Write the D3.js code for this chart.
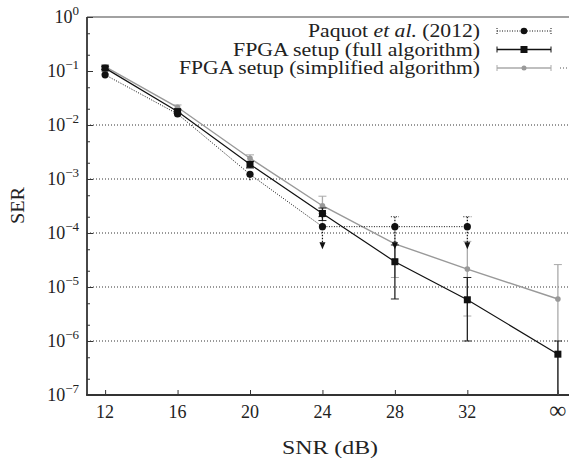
<!DOCTYPE html>
<html>
<head>
<meta charset="utf-8">
<script src="https://cdn.jsdelivr.net/npm/d3@7"></script>
<style>
  body { margin: 0; background: #fff; }
  svg { display: block; }
  text { font-family: "Liberation Serif", "DejaVu Serif", serif; fill: #222; }
</style>
</head>
<body>
<svg id="chart"></svg>
<script>
// SNR positions (infinity drawn at 37) and their labels
const snrTicks = [12, 16, 20, 24, 28, 32, 37];
const snrLabels = ["12", "16", "20", "24", "28", "32", "∞"];

// Paquot et al. (2012)
const paquotX = [12, 16, 20, 24, 28, 32];
const paquotSER = [0.085, 0.016, 0.00122, 1.31e-4, 1.31e-4, 1.31e-4];
const paquotLow = [0.078, 0.0148, 0.00095, 5e-5, 5e-5, 5e-5];
const paquotHigh = [0.092, 0.0172, 0.0014, 2e-4, 2e-4, 2e-4];
const paquotLimit = [false, false, false, true, true, true];

// FPGA setup (full algorithm)
const fullX = [12, 16, 20, 24, 28, 32, 37];
const fullSER = [0.113, 0.0177, 0.00187, 2.3e-4, 2.94e-5, 5.8e-6, 5.7e-7];
const fullLow = [0.106, 0.0165, 0.0016, 1.7e-4, 6e-6, 1e-6, 1e-9];
const fullHigh = [0.12, 0.019, 0.0021, 2.9e-4, 6e-5, 1.5e-5, 1e-6];

// FPGA setup (simplified algorithm)
const simpX = [12, 16, 20, 24, 28, 32, 37];
const simpSER = [0.12, 0.0213, 0.00242, 3.2e-4, 6.3e-5, 2.15e-5, 6e-6];
const simpLow = [0.112, 0.0198, 0.0021, 2.3e-4, 1.5e-5, 2.9e-6, 1e-9];
const simpHigh = [0.128, 0.0235, 0.0028, 4.8e-4, 1.3e-4, 7e-5, 2.6e-5];

const yExponents = [0, -1, -2, -3, -4, -5, -6, -7];
const gridExponents = [-2, -3, -4, -5, -6];

const legendNames = ["Paquot", "FPGA setup (full algorithm)", "FPGA setup (simplified algorithm)"];

const W = 569, H = 459;
const margin = { top: 17, left: 87, bottom: 64 };
const plotRight = 576;
const plotBottom = H - margin.bottom;

const svg = d3.select("#chart").attr("width", W).attr("height", H);

const x = d3.scaleLinear().domain([11, 38]).range([margin.left, plotRight]);
const y = d3.scaleLog().domain([1e-7, 1]).range([plotBottom, margin.top]);

svg.append("defs").append("clipPath").attr("id", "plotClip")
  .append("rect")
  .attr("x", margin.left).attr("y", margin.top)
  .attr("width", plotRight - margin.left).attr("height", plotBottom - margin.top);

// grid lines
svg.append("g")
  .selectAll("line")
  .data(gridExponents)
  .enter()
  .append("line")
  .attr("x1", margin.left).attr("x2", plotRight)
  .attr("y1", d => y(Math.pow(10, d))).attr("y2", d => y(Math.pow(10, d)))
  .attr("stroke", "#333").attr("stroke-width", 1).attr("stroke-dasharray", "1,2");

// y ticks (inward), majors at decades and minors at 2x and 5x
const minorVals = [];
yExponents.slice(0, -1).forEach(e => { minorVals.push(2 * Math.pow(10, e - 1), 5 * Math.pow(10, e - 1)); });

const yAxisMajor = d3.axisRight(y).tickValues(yExponents.map(e => Math.pow(10, e))).tickSize(6).tickFormat("");
const yAxisMinor = d3.axisRight(y).tickValues(minorVals).tickSize(3).tickFormat("");
[yAxisMajor, yAxisMinor].forEach(ax => {
  const g = svg.append("g").attr("transform", `translate(${margin.left},0)`).call(ax);
  g.select(".domain").remove();
  g.selectAll("line").attr("stroke", "#333").attr("stroke-width", 1);
});

// x ticks (inward)
const xAxis = d3.axisTop(x).tickValues(snrTicks).tickSize(5).tickFormat("");
const gx = svg.append("g").attr("transform", `translate(0,${plotBottom})`).call(xAxis);
gx.select(".domain").remove();
gx.selectAll("line").attr("stroke", "#333").attr("stroke-width", 1);

// frame
svg.append("line").attr("x1", margin.left).attr("x2", plotRight)
  .attr("y1", margin.top).attr("y2", margin.top)
  .attr("stroke", "#444").attr("stroke-width", 1.2);
svg.append("line").attr("x1", margin.left).attr("x2", margin.left)
  .attr("y1", margin.top).attr("y2", plotBottom)
  .attr("stroke", "#333").attr("stroke-width", 1.8);
svg.append("line").attr("x1", margin.left - 0.9).attr("x2", plotRight)
  .attr("y1", plotBottom).attr("y2", plotBottom)
  .attr("stroke", "#333").attr("stroke-width", 1.8);

// tick labels
svg.append("g")
  .selectAll("text")
  .data(snrTicks)
  .enter()
  .append("text")
  .attr("x", d => x(d))
  .attr("y", plotBottom + 23)
  .attr("text-anchor", "middle")
  .style("font-size", (d, i) => snrLabels[i] === "∞" ? "24px" : "18px")
  .text((d, i) => snrLabels[i]);

const yLab = svg.append("g")
  .selectAll("text")
  .data(yExponents)
  .enter()
  .append("text")
  .attr("x", 79)
  .attr("y", d => y(Math.pow(10, d)) + 6)
  .attr("text-anchor", "end")
  .style("font-size", "18px");
yLab.append("tspan").text("10");
yLab.append("tspan").attr("dy", -8).style("font-size", "13px")
  .text(d => d === 0 ? "0" : "\u2212" + Math.abs(d));

// axis titles
svg.append("text")
  .attr("x", 282)
  .attr("y", 454)
  .attr("textLength", 96)
  .attr("lengthAdjust", "spacingAndGlyphs")
  .style("font-size", "19px")
  .text("SNR (dB)");

svg.append("text")
  .attr("transform", `translate(24,224) rotate(-90)`)
  .attr("textLength", 37)
  .attr("lengthAdjust", "spacingAndGlyphs")
  .style("font-size", "19px")
  .text("SER");

// series
const plot = svg.append("g").attr("clip-path", "url(#plotClip)");
const capW = 4;

function drawErrors(g, xs, lows, highs, color, dash, width) {
  xs.forEach((xv, i) => {
    const px = x(xv), y0 = y(lows[i]), y1 = y(highs[i]);
    g.append("line").attr("x1", px).attr("x2", px).attr("y1", y0).attr("y2", y1)
      .attr("stroke", color).attr("stroke-width", width).attr("stroke-dasharray", dash);
    [y0, y1].forEach(cy => {
      g.append("line").attr("x1", px - capW).attr("x2", px + capW).attr("y1", cy).attr("y2", cy)
        .attr("stroke", color).attr("stroke-width", 1).attr("stroke-dasharray", dash);
    });
  });
}

const line = d3.line().x(d => x(d[0])).y(d => y(d[1]));

// simplified (gray)
const gSimp = plot.append("g");
drawErrors(gSimp, simpX, simpLow, simpHigh, "#aaa", null, 1.3);
gSimp.append("path").datum(simpX.map((d, i) => [d, simpSER[i]]))
  .attr("d", line).attr("fill", "none").attr("stroke", "#999").attr("stroke-width", 1.4);
gSimp.selectAll("circle").data(simpX).enter().append("circle")
  .attr("cx", d => x(d)).attr("cy", (d, i) => y(simpSER[i])).attr("r", 2.8).attr("fill", "#999");

// full (black)
const gFull = plot.append("g");
drawErrors(gFull, fullX, fullLow, fullHigh, "#222", null, 1.3);
gFull.append("path").datum(fullX.map((d, i) => [d, fullSER[i]]))
  .attr("d", line).attr("fill", "none").attr("stroke", "#111").attr("stroke-width", 1.2);
gFull.selectAll("rect").data(fullX).enter().append("rect")
  .attr("x", d => x(d) - 3.5).attr("y", (d, i) => y(fullSER[i]) - 3.5)
  .attr("width", 7).attr("height", 7).attr("fill", "#111");

// Paquot (dotted)
const gPaq = plot.append("g");
paquotX.forEach((xv, i) => {
  const px = x(xv);
  if (paquotLimit[i]) {
    const tip = y(paquotLow[i]);
    gPaq.append("line").attr("x1", px).attr("x2", px).attr("y1", y(paquotHigh[i])).attr("y2", tip - 5)
      .attr("stroke", "#111").attr("stroke-width", 1.2).attr("stroke-dasharray", "1.5,1.5");
    gPaq.append("line").attr("x1", px - capW).attr("x2", px + capW)
      .attr("y1", y(paquotHigh[i])).attr("y2", y(paquotHigh[i]))
      .attr("stroke", "#111").attr("stroke-width", 1).attr("stroke-dasharray", "1,1.5");
    gPaq.append("path")
      .attr("d", `M${px - 3},${tip - 7} L${px + 3},${tip - 7} L${px},${tip} Z`)
      .attr("fill", "#111");
  } else {
    gPaq.append("line").attr("x1", px).attr("x2", px)
      .attr("y1", y(paquotLow[i])).attr("y2", y(paquotHigh[i]))
      .attr("stroke", "#111").attr("stroke-width", 1.2).attr("stroke-dasharray", "1.5,1.5");
  }
});
gPaq.append("path").datum(paquotX.map((d, i) => [d, paquotSER[i]]))
  .attr("d", line).attr("fill", "none").attr("stroke", "#111")
  .attr("stroke-width", 1).attr("stroke-dasharray", "1,1.5");
gPaq.selectAll("circle").data(paquotX).enter().append("circle")
  .attr("cx", d => x(d)).attr("cy", (d, i) => y(paquotSER[i])).attr("r", 3.6).attr("fill", "#111");

// legend
const legendRows = [31, 49.5, 68];
const legendWidths = [172, 247, 301];
const legX0 = 497, legX1 = 551, legMid = 524;
const legend = svg.append("g");

const legendText = (i) => legend.append("text")
  .attr("x", 480 - legendWidths[i]).attr("y", legendRows[i] + 6)
  .attr("textLength", legendWidths[i])
  .attr("lengthAdjust", "spacingAndGlyphs")
  .style("font-size", "18px");

const t0 = legendText(0);
t0.append("tspan").text("Paquot ");
t0.append("tspan").style("font-style", "italic").text("et al.");
t0.append("tspan").text(" (2012)");
legendText(1).text(legendNames[1]);
legendText(2).text(legendNames[2]);

const legStyles = [
  { color: "#111", dash: "1,1.5", width: 1 },
  { color: "#111", dash: null, width: 1.3 },
  { color: "#aaa", dash: null, width: 1.3 }
];
legStyles.forEach((s, i) => {
  const ly = legendRows[i];
  legend.append("line").attr("x1", legX0).attr("x2", legX1).attr("y1", ly).attr("y2", ly)
    .attr("stroke", s.color).attr("stroke-width", s.width).attr("stroke-dasharray", s.dash);
  [legX0, legX1].forEach(cx => {
    legend.append("line").attr("x1", cx).attr("x2", cx).attr("y1", ly - 3).attr("y2", ly + 3)
      .attr("stroke", s.color).attr("stroke-width", 1).attr("stroke-dasharray", s.dash);
  });
});
legend.append("circle").attr("cx", legMid).attr("cy", legendRows[0]).attr("r", 3.3).attr("fill", "#111");
legend.append("rect").attr("x", legMid - 3.5).attr("y", legendRows[1] - 3.5)
  .attr("width", 7).attr("height", 7).attr("fill", "#111");
legend.append("circle").attr("cx", legMid).attr("cy", legendRows[2]).attr("r", 2.5).attr("fill", "#999");
legend.append("line").attr("x1", 560).attr("x2", 569).attr("y1", legendRows[2]).attr("y2", legendRows[2])
  .attr("stroke", "#555").attr("stroke-width", 1).attr("stroke-dasharray", "1,2");
</script>
</body>
</html>
